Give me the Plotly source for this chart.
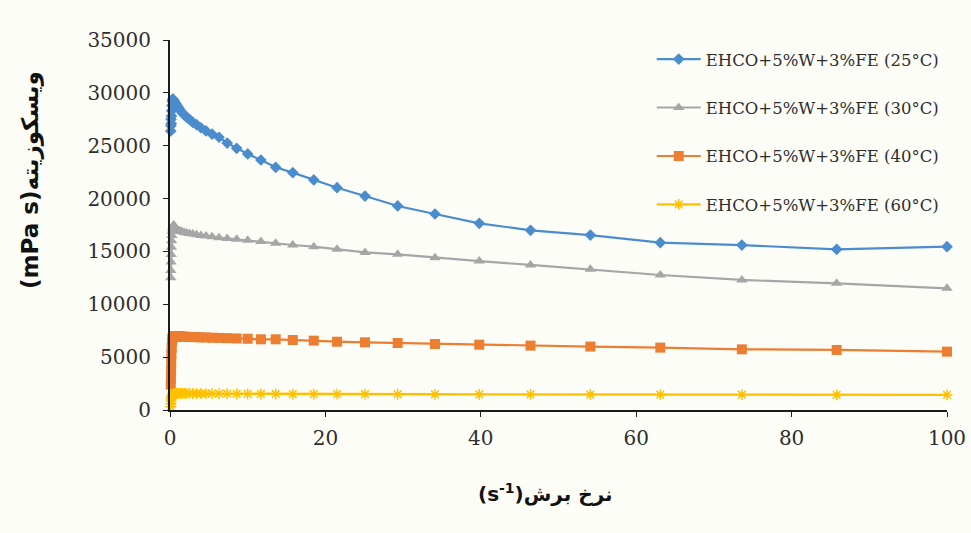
import plotly.graph_objects as go

# Shear rate (1/s), logarithmic sweep
shear_rate = [0.1, 0.117, 0.136, 0.158, 0.185, 0.215, 0.251, 0.293, 0.341, 0.398,
              0.464, 0.541, 0.631, 0.736, 0.858, 1.0, 1.17, 1.36, 1.58, 1.85,
              2.15, 2.51, 2.93, 3.41, 3.98, 4.64, 5.41, 6.31, 7.36, 8.58,
              10.0, 11.7, 13.6, 15.8, 18.5, 21.5, 25.1, 29.3, 34.1, 39.8,
              46.4, 54.1, 63.1, 73.6, 85.8, 100.0]

# Viscosity (mPa s) at each temperature
visc_25 = [26400, 26900, 27500, 27100, 27800, 28300, 28800, 29200, 29400, 29400,
           29300, 29200, 29100, 29000, 28800, 28700, 28500, 28300, 28100, 27900,
           27700, 27500, 27200, 27000, 26700, 26400, 26100, 25800, 25250, 24750,
           24220, 23650, 22960, 22450, 21760, 21030, 20240, 19300, 18540, 17660,
           17000, 16550, 15830, 15600, 15200, 15450]

visc_30 = [12500, 13200, 14000, 14700, 15400, 16000, 16500, 16900, 17200, 17400,
           17500, 17400, 17300, 17200, 17100, 17000, 16950, 16900, 16850, 16800,
           16750, 16700, 16650, 16580, 16500, 16450, 16400, 16300, 16220, 16150,
           16050, 15930, 15770, 15610, 15450, 15200, 14910, 14730, 14410, 14090,
           13720, 13310, 12770, 12300, 11980, 11510]

visc_40 = [2400, 3000, 3700, 4500, 5300, 5900, 6400, 6700, 6850, 6950,
           7000, 7000, 7000, 6990, 6980, 6970, 6960, 6950, 6940, 6930,
           6920, 6910, 6900, 6890, 6870, 6860, 6840, 6820, 6800, 6770,
           6740, 6690, 6690, 6620, 6560, 6460, 6400, 6340, 6240, 6180,
           6090, 6000, 5900, 5740, 5680, 5520]

visc_60 = [300, 600, 850, 1050, 1200, 1300, 1380, 1440, 1480, 1510,
           1530, 1550, 1560, 1570, 1580, 1580, 1580, 1580, 1575, 1570,
           1570, 1565, 1560, 1560, 1555, 1550, 1550, 1545, 1540, 1535,
           1530, 1520, 1515, 1510, 1505, 1500, 1495, 1490, 1485, 1480,
           1470, 1460, 1450, 1445, 1440, 1430]

series_names = ["EHCO+5%W+3%FE (25°C)", "EHCO+5%W+3%FE (30°C)",
                "EHCO+5%W+3%FE (40°C)", "EHCO+5%W+3%FE (60°C)"]

x_ticks = [0, 20, 40, 60, 80, 100]
y_ticks = [0, 5000, 10000, 15000, 20000, 25000, 30000, 35000]

SERIF = "DejaVu Serif"
TEXT = "#2e2e2e"

styles = [
    dict(color="#4a8ccd", symbol="diamond", size=9),
    dict(color="#a6a6a6", symbol="triangle-up", size=10),
    dict(color="#ed7d31", symbol="square", size=10),
    dict(color="#ffc000", symbol="asterisk-open", size=9),
]

fig = go.Figure()
for i, (name, ys, st) in enumerate(zip(series_names,
                                        [visc_25, visc_30, visc_40, visc_60],
                                        styles)):
    marker = dict(color=st["color"], symbol=st["symbol"], size=st["size"])
    if st["symbol"].endswith("-open"):
        marker["line"] = dict(color=st["color"], width=1.5)
    else:
        marker["line"] = dict(width=0)
    fig.add_trace(go.Scatter(
        x=shear_rate, y=ys, name=name, mode="lines+markers",
        line=dict(color=st["color"], width=2.4 if i == 3 else 2.2),
        marker=marker, cliponaxis=False, legendgroup=f"g{i}",
    ))

fig.update_layout(
    width=971, height=533,
    margin=dict(l=170, r=24, t=40, b=123),
    paper_bgcolor="#fdfdf7", plot_bgcolor="#fdfdf7",
    showlegend=True,
    legend=dict(
        x=0.62, y=0.995, xanchor="left", yanchor="top",
        font=dict(family=SERIF, size=16.5, color=TEXT),
        bgcolor="rgba(0,0,0,0)", tracegroupgap=24, itemwidth=44,
    ),
    xaxis=dict(
        range=[0, 100], tickvals=x_ticks, tickformat="d", automargin=False,
        showgrid=False, zeroline=False,
        showline=True, linecolor="#1a1a1a", linewidth=2,
        ticks="outside", ticklen=5, tickcolor="#1a1a1a",
        ticklabelstandoff=4,
        tickfont=dict(family=SERIF, size=20, color=TEXT),
    ),
    yaxis=dict(
        range=[0, 35000], tickvals=y_ticks, tickformat="d", automargin=False,
        showgrid=False, zeroline=False,
        showline=True, linecolor="#1a1a1a", linewidth=2,
        ticks="outside", ticklen=5, tickcolor="#1a1a1a",
        ticklabelstandoff=8,
        tickfont=dict(family=SERIF, size=20, color=TEXT),
    ),
    annotations=[
        dict(text="<b>(s<sup>-1</sup>)نرخ برش</b>", xref="paper", yref="paper",
             x=(545 - 170) / 777, y=-(493 - 410) / 370, xanchor="center", yanchor="middle",
             showarrow=False, font=dict(family="DejaVu Sans", size=20, color="#111111")),
        dict(text="<b>(mPa s)ویسکوزیته</b>", xref="paper", yref="paper",
             x=-(170 - 30) / 777, y=(410 - 180) / 370, xanchor="center", yanchor="middle",
             textangle=-90, showarrow=False,
             font=dict(family="DejaVu Sans", size=23, color="#111111")),
    ],
)

fig.write_html("out.html")
